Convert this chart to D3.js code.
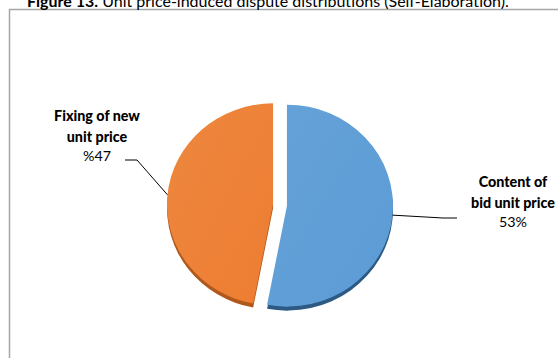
<!DOCTYPE html>
<html><head><meta charset="utf-8">
<script src="https://cdn.jsdelivr.net/npm/d3@7"></script>
<style>body{margin:0;background:#fff}svg{display:block}</style>
</head><body>
<script>
const categories = ["Content of bid unit price", "Fixing of new unit price"];
const values = [53, 47];
const labelLines = [["Content of", "bid unit price"], ["Fixing of new", "unit price"]];
const pctLabels = ["53%", "%47"];
const colors = ["#5b9bd5", "#ed7d31"];
const lightColors = ["#66a2d9", "#ee873f"];
const darkColors = ["#2c5a85", "#b0581c"];

const W = 558, H = 358;
const svg = d3.select("body").append("svg").attr("width", W).attr("height", H);
const font = "Lato, 'Liberation Sans', sans-serif";

// frame
svg.append("rect").attr("x", 9.5).attr("y", 9.5).attr("width", 600).attr("height", 400)
  .attr("fill", "none").attr("stroke", "#a6a6a6").attr("stroke-width", 1.5);

// title (partly cut off at the top, as in the source)
const title = svg.append("text").attr("x", 27).attr("y", 7).attr("font-family", font)
  .attr("font-size", 16).attr("fill", "#000");
title.append("tspan").attr("font-weight", "bold").text("Figure 13.");
title.append("tspan").text(" Unit price-induced dispute distributions (Self-Elaboration).");

const cx = 280, cy = 205, rx = 106, ry = 101, depth = 4, explode = 7;
const sy = ry / rx;

const pie = d3.pie().sort(null).value(d => d)(values);
const arc = d3.arc().innerRadius(0).outerRadius(rx);

const defs = svg.append("defs");
pie.forEach((p, i) => {
  const g = defs.append("linearGradient").attr("id", "g" + i)
    .attr("x1", "0%").attr("y1", "0%").attr("x2", "100%").attr("y2", "100%");
  g.append("stop").attr("offset", "0%").attr("stop-color", lightColors[i]);
  g.append("stop").attr("offset", "100%").attr("stop-color", colors[i]);
});

pie.forEach((p, i) => {
  const mid = (p.startAngle + p.endAngle) / 2;
  const ox = Math.sin(mid) * explode, oy = -Math.cos(mid) * explode * sy;
  const g = svg.append("g").attr("transform", `translate(${cx + ox},${cy + oy})`);
  g.append("path").attr("d", arc(p))
    .attr("transform", `translate(0,${depth}) scale(1,${sy})`)
    .attr("fill", darkColors[i]);
  g.append("path").attr("d", arc(p))
    .attr("transform", `scale(1,${sy})`)
    .attr("fill", `url(#g${i})`);
});

const leaderPts = [
  (ex, ey) => [[ex, ey], [443, 218], [457, 218]],
  (ex, ey) => [[ex, ey], [137, 160], [125, 160]]
];
const labelPos = [{x: 513, y: 187}, {x: 97, y: 121}];

pie.forEach((p, i) => {
  const mid = (p.startAngle + p.endAngle) / 2;
  const ox = Math.sin(mid) * explode, oy = -Math.cos(mid) * explode * sy;
  const ex = cx + ox + Math.sin(mid) * rx;
  const ey = cy + oy - Math.cos(mid) * ry;
  svg.append("path").attr("d", d3.line()(leaderPts[i](ex, ey))).attr("fill", "none")
    .attr("stroke", "#000").attr("stroke-width", 1);
  const t = svg.append("text").attr("text-anchor", "middle").attr("font-family", font)
    .attr("font-size", 14.3).attr("fill", "#000");
  labelLines[i].forEach((ln, k) => {
    t.append("tspan").attr("x", labelPos[i].x).attr("y", labelPos[i].y + k * 20.5)
      .attr("font-weight", "900").text(ln);
  });
  t.append("tspan").attr("x", labelPos[i].x).attr("y", labelPos[i].y + 2 * 20.5 - 1)
    .text(pctLabels[i]);
});
</script>
</body></html>
